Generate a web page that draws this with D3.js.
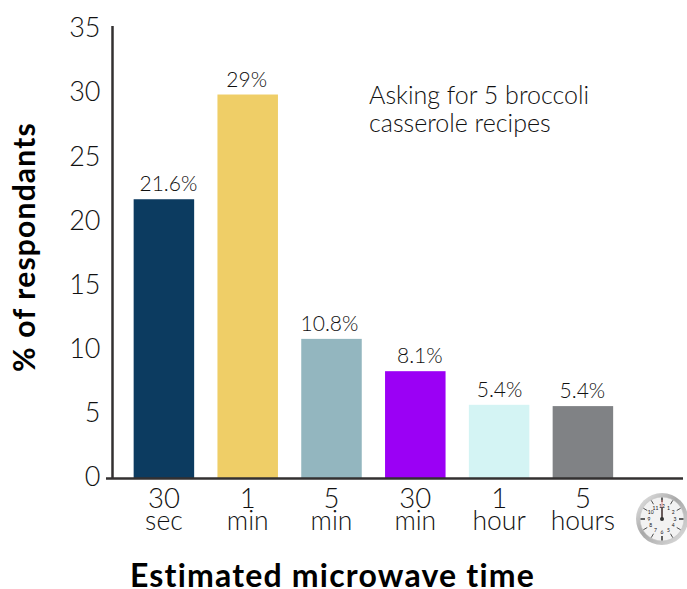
<!DOCTYPE html>
<html>
<head>
<meta charset="utf-8">
<script src="https://cdn.jsdelivr.net/npm/d3@7"></script>
<style>
  html, body { margin: 0; padding: 0; background: #fff; }
  svg { display: block; }
  text { font-family: Lato, "Open Sans", sans-serif; fill: #111; }
</style>
</head>
<body>
<div id="chart"></div>
<script>
const categories = ['30 sec', '1 min', '5 min', '30 min', '1 hour', '5 hours'];
const tickTop = ['30', '1', '5', '30', '1', '5'];
const tickBottom = ['sec', 'min', 'min', 'min', 'hour', 'hours'];
// bar heights as drawn (they differ a little from the printed labels)
const barValues = [21.6, 29.7, 10.8, 8.3, 5.7, 5.6];
const barLabels = ['21.6%', '29%', '10.8%', '8.1%', '5.4%', '5.4%'];
const barColors = ['#0c3b60', '#efce67', '#93b6bf', '#9b00f5', '#d4f4f4', '#808285'];
const yTicks = [0, 5, 10, 15, 20, 25, 30, 35];
const clockHours = [1, 2, 3, 4, 5, 6, 7, 8, 9, 10, 11, 12];

const width = 687;
const height = 589;

// the value labels are not quite centred over their bars in the original
const labelNudge = [4.5, -1, -2, 4.5, 0.5, -0.5];

const svg = d3.select('#chart')
  .append('svg')
  .attr('width', width)
  .attr('height', height);

const x = d3.scaleBand()
  .domain(categories)
  .range([122, 624.8])
  .paddingInner(0.278)
  .paddingOuter(0.139);

const y = d3.scaleLinear()
  .domain([0, 35])
  .range([478.5, 26]);

// tick labels sit on a slightly tighter spacing than the bars
const yLabelScale = d3.scaleLinear()
  .domain([0, 35])
  .range([476, 27]);

// Bars
svg.append('g')
  .selectAll('rect')
  .data(categories)
  .enter()
  .append('rect')
  .attr('x', d => x(d))
  .attr('y', (d, i) => y(barValues[i]))
  .attr('width', x.bandwidth())
  .attr('height', (d, i) => y(0) - y(barValues[i]))
  .attr('fill', (d, i) => barColors[i]);

// Value labels
svg.append('g')
  .selectAll('text')
  .data(categories)
  .enter()
  .append('text')
  .attr('x', (d, i) => x(d) + x.bandwidth() / 2 + labelNudge[i])
  .attr('y', (d, i) => y(barValues[i]) - 8)
  .attr('text-anchor', 'middle')
  .attr('font-size', 21)
  .attr('font-weight', 300)
  .text((d, i) => barLabels[i]);

// Y axis
const yAxis = svg.append('g')
  .attr('transform', 'translate(112.5,0)')
  .call(d3.axisLeft(yLabelScale).tickValues(yTicks).tickSize(0).tickPadding(12));
yAxis.select('.domain').remove();
yAxis.selectAll('text')
  .attr('dy', '0.36em')
  .attr('font-size', 27)
  .attr('font-weight', 300)
  .attr('font-family', 'Lato, sans-serif');

svg.append('line')
  .attr('x1', 112.5)
  .attr('x2', 112.5)
  .attr('y1', y(35))
  .attr('y2', y(0))
  .attr('stroke', '#333031')
  .attr('stroke-width', 2.5);

// X baseline
svg.append('line')
  .attr('x1', 106)
  .attr('x2', 683)
  .attr('y1', y(0))
  .attr('y2', y(0))
  .attr('stroke', '#333031')
  .attr('stroke-width', 2.5);

// Two line x tick labels
const xLabels = svg.append('g')
  .selectAll('g')
  .data(categories)
  .enter()
  .append('g')
  .attr('transform', d => `translate(${x(d) + x.bandwidth() / 2},0)`);

xLabels.append('text')
  .attr('y', 508)
  .attr('text-anchor', 'middle')
  .attr('font-size', 27.5)
  .attr('font-weight', 300)
  .text((d, i) => tickTop[i]);

xLabels.append('text')
  .attr('y', 530)
  .attr('text-anchor', 'middle')
  .attr('font-size', 26.5)
  .attr('font-weight', 300)
  .text((d, i) => tickBottom[i]);

// Axis titles
svg.append('text')
  .attr('x', 332.5)
  .attr('y', 587)
  .attr('text-anchor', 'middle')
  .attr('font-size', 32)
  .attr('font-weight', 700)
  .attr('letter-spacing', 1.2)
  .style('fill', '#000')
  .text('Estimated microwave time');

svg.append('text')
  .attr('transform', 'translate(35,247) rotate(-90)')
  .attr('text-anchor', 'middle')
  .attr('font-size', 30)
  .attr('font-weight', 700)
  .attr('letter-spacing', 1.2)
  .style('fill', '#000')
  .text('% of respondants');

// Annotation
const note = svg.append('text')
  .attr('font-size', 25)
  .attr('font-weight', 300);
note.append('tspan').attr('x', 369).attr('y', 104).text('Asking for 5 broccoli');
note.append('tspan').attr('x', 369).attr('y', 132).text('casserole recipes');

// Little clock in the corner
const clock = svg.append('g').attr('transform', 'translate(662,519)');
const rim = svg.append('defs').append('linearGradient')
  .attr('id', 'rim')
  .attr('x1', 0).attr('y1', 0)
  .attr('x2', 1).attr('y2', 1);
rim.append('stop').attr('offset', 0).attr('stop-color', '#ececec');
rim.append('stop').attr('offset', 0.45).attr('stop-color', '#a8a8a8');
rim.append('stop').attr('offset', 1).attr('stop-color', '#e2e2e2');

clock.append('circle').attr('r', 26).attr('fill', 'url(#rim)');
clock.append('circle').attr('r', 22).attr('fill', '#f2f2f2').attr('stroke', '#c4c4c4').attr('stroke-width', 0.6);

const angle = d3.scaleLinear().domain([0, 12]).range([0, 2 * Math.PI]);

clock.append('g')
  .selectAll('line')
  .data(clockHours)
  .enter()
  .append('line')
  .attr('x1', d => Math.sin(angle(d)) * 17)
  .attr('y1', d => -Math.cos(angle(d)) * 17)
  .attr('x2', d => Math.sin(angle(d)) * 21.5)
  .attr('y2', d => -Math.cos(angle(d)) * 21.5)
  .attr('stroke', '#222')
  .attr('stroke-width', d => d % 3 === 0 ? 1.4 : 0.8);

clock.append('g')
  .selectAll('text')
  .data(clockHours)
  .enter()
  .append('text')
  .attr('x', d => Math.sin(angle(d)) * 13)
  .attr('y', d => -Math.cos(angle(d)) * 13 + 1.8)
  .attr('text-anchor', 'middle')
  .attr('font-size', 5)
  .text(d => d);

clock.append('line').attr('y1', 0).attr('y2', -19).attr('stroke', '#e58080').attr('stroke-width', 0.9);
clock.append('line').attr('y1', 0).attr('y2', -12).attr('stroke', '#333').attr('stroke-width', 1.4);
clock.append('circle').attr('r', 2).attr('fill', '#333');
</script>
</body>
</html>
